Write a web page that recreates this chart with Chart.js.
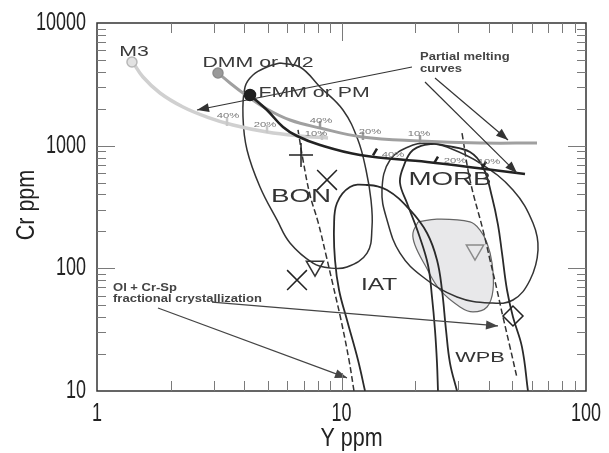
<!DOCTYPE html>
<html>
<head>
<meta charset="utf-8">
<script src="https://cdn.jsdelivr.net/npm/chart.js@4.4.1/dist/chart.umd.min.js"></script>
<style>
  html, body { margin: 0; padding: 0; background: #fff; }
  #wrap { width: 609px; height: 453px; }
</style>
</head>
<body>
<div id="wrap"><canvas id="c" width="609" height="453"></canvas></div>
<script>
// Cr vs Y (ppm), log-log.
const xTickValues = [1, 10, 100];
const yTickValues = [10, 100, 1000, 10000];

// partial melting curves from the mantle sources
const m3Curve  = [[1.40,4808],[1.542,3628],[1.810,2688],[2.248,2066],[2.818,1712],[3.599,1474],[4.958,1292],[6.766,1199],[8.808,1155]];
const dmmCurve = [[3.125,3912],[3.499,3242],[3.955,2688],[4.958,1990],[6.157,1619],[8.168,1393],[12.13,1177],[20.95,1091],[36.86,1051],[63.04,1051]];
const fmmCurve = [[4.225,2588],[4.958,1953],[5.764,1419],[6.577,1199],[8.168,1012],[11.90,839],[22.37,736],[35.83,658],[56.30,587]];

// melting % marks on each curve
const m3Marks  = [[3.402,1559],[4.958,1367],[8.322,1199]];
const dmmMarks = [[8.168,1474],[12.24,1199],[20.95,1133]];
const fmmMarks = [[13.71,888],[24.35,764],[38.27,696]];

// mantle sources
const m3Source  = [[1.39,4808]];
const dmmSource = [[3.125,3912]];
const fmmSource = [[4.225,2588]];

// fractional crystallization trends (dashed)
const fcTrendLow  = [[6.640,1342],[6.959,764],[7.432,396],[8.016,239],[8.643,128.5],[9.23,73.1],[9.954,37.9],[10.73,17.9],[11.25,10]];
const fcTrendHigh = [[31.11,1268],[33.54,525],[37.90,205],[40.50,117],[43.25,66.6],[45.77,40.1],[48.89,22.8],[52.22,12.8]];

// tectonic fields
const bonField  = [[5.604,4720],[6.766,4378],[8.168,3007],[10.14,1953],[11.68,1112],[12.60,633],[13.20,361],[13.33,217],[12.72,133],[10.53,102.5],[8.974,100.6],[7.645,110.5],[6.157,161],[5.448,248],[4.642,460],[4.108,922],[3.955,1712],[4.031,3007],[4.345,3767],[4.958,4378],[5.604,4720]];
const iatField  = [[12.48,10],[11.68,17.9],[10.53,37.9],[9.77,66.6],[9.406,117],[9.32,217],[9.585,341],[10.83,460],[12.72,478],[15.35,435],[19.06,299],[22.37,194],[24.58,117],[25.76,66.6],[26.76,31.4],[27.78,16.9],[29.68,10]];
const wpbField  = [[24.81,10],[24.58,16.9],[24.12,31.4],[23.45,58.4],[22.58,106.4],[20.75,187],[18.53,341],[17.35,496],[17.84,658],[19.60,922],[23.45,1031],[27.01,994],[33.54,888],[37.90,670],[41.27,382],[43.66,226],[45.34,133],[47.53,66.6],[50.28,40.1],[54.73,22.8],[57.91,10]];
const morbField = [[23.01,1051],[27.01,975],[36.86,722],[50.28,435],[60.70,234],[63.64,141],[59.02,80.3],[50.28,55.2],[40.50,52.2],[29.68,58.4],[21.54,85.0],[17.35,133],[15.35,248],[14.64,435],[15.79,764],[19.60,1012],[23.01,1051]];
const morbCore  = [[20.55,239],[24.58,252],[33.54,239],[36.86,205],[39.37,161],[41.27,110.5],[41.66,66.6],[39.37,48.4],[34.50,44.1],[30.53,48.4],[25.29,66.6],[21.95,106.4],[19.97,155],[19.60,194],[20.55,239]];

// samples
const plusSample  = [[6.83,839]];
const crossSamples = [[8.726,525],[6.577,80.3]];
const triSampleDark = [[7.791,104]];
const triSampleGray = [[35.16,141]];
const diamondSample = [[50.28,40.9]];

// annotation arrows
const meltPointer = [[19.42,4378],[2.564,1953]];
const meltArrowA  = [[24.12,3561],[47.97,1112]];
const meltArrowB  = [[21.95,3304],[52.22,598]];
const fcArrowA    = [[2.953,53.1],[43.66,33.9]];
const fcArrowB    = [[1.776,47.5],[10.53,12.8]];

// texts
const nameLabels = [
  { t: 'M3', x: 1.417, y: 5801, k: 'src' },
  { t: 'DMM or M2', x: 4.555, y: 4720, k: 'src' },
  { t: 'FMM or PM', x: 7.72, y: 2688, k: 'src' },
  { t: 'BON', x: 6.83, y: 382, k: 'big' },
  { t: 'MORB', x: 27.78, y: 525, k: 'big' },
  { t: 'IAT', x: 14.24, y: 73.1, k: 'mid' },
  { t: 'WPB', x: 36.86, y: 18.58, k: 'small' }
];
const pctLabels = [
  { t: '40%', x: 3.434, y: 1745 }, { t: '20%', x: 4.864, y: 1474 }, { t: '10%', x: 7.865, y: 1245 },
  { t: '40%', x: 8.245, y: 1589 }, { t: '20%', x: 13.08, y: 1292 }, { t: '10%', x: 20.75, y: 1245 },
  { t: '40%', x: 16.24, y: 839 },  { t: '20%', x: 29.12, y: 750 },  { t: '10%', x: 40.12, y: 736 }
];
const noteLabels = [
  { t: 'Partial melting', x: 20.95, y: 5282 },
  { t: 'curves', x: 20.95, y: 4217 },
  { t: 'Ol + Cr-Sp', x: 1.163, y: 69.1 },
  { t: 'fractional crystallization', x: 1.163, y: 56.2 }
];

const FONT = '"Liberation Sans", Arial, sans-serif';
const labelStyles = {
  src:   { size: 15, bold: false, color: '#3a3a3a', sx: 1.42 },
  big:   { size: 19, bold: false, color: '#333', sx: 1.46 },
  mid:   { size: 17, bold: false, color: '#333', sx: 1.44 },
  small: { size: 15, bold: false, color: '#333', sx: 1.45 }
};

const pts = a => a.map(([x, y]) => ({ x, y }));

function curve(data, color, width, extra) {
  return Object.assign({
    data: pts(data), showLine: true, borderColor: color, borderWidth: width,
    pointRadius: 0, tension: 0.4, fill: false
  }, extra || {});
}

function marker(data, style, radius, color, extra) {
  return Object.assign({
    data: pts(data), showLine: false, pointStyle: style, pointRadius: radius,
    pointBorderColor: color, pointBackgroundColor: 'rgba(0,0,0,0)', pointBorderWidth: 1.5
  }, extra || {});
}

function stretchText(ctx, text, x, y, font, color, sx, align) {
  ctx.save();
  ctx.translate(x, y);
  ctx.scale(sx, 1);
  ctx.font = font;
  ctx.fillStyle = color;
  ctx.textAlign = align || 'center';
  ctx.textBaseline = 'middle';
  ctx.fillText(text, 0, 0);
  ctx.restore();
}

const decor = {
  id: 'decor',
  afterDatasetsDraw(chart) {
    const ctx = chart.ctx, xs = chart.scales.x, ys = chart.scales.y, a = chart.chartArea;

    // arrowheads
    chart.data.datasets.forEach((ds, i) => {
      if (!ds.arrowHead) return;
      const el = chart.getDatasetMeta(i).data;
      const p1 = el[el.length - 2], p2 = el[el.length - 1];
      const ang = Math.atan2(p2.y - p1.y, p2.x - p1.x);
      ctx.save();
      ctx.translate(p2.x, p2.y);
      ctx.rotate(ang);
      ctx.beginPath();
      ctx.moveTo(0, 0); ctx.lineTo(-12, -4.5); ctx.lineTo(-12, 4.5); ctx.closePath();
      ctx.fillStyle = ds.borderColor;
      ctx.fill();
      ctx.restore();
    });

    // frame
    ctx.save();
    ctx.strokeStyle = '#333';
    ctx.lineWidth = 1.5;
    ctx.strokeRect(a.left, a.top, a.right - a.left, a.bottom - a.top);

    // inward tick marks
    ctx.lineWidth = 1;
    ctx.strokeStyle = '#7a7a7a';
    ctx.beginPath();
    for (let k = 0; k < 2; k++) {
      for (let m = 1; m <= 9; m++) {
        const v = m * Math.pow(10, k);
        if (v === 1) continue;
        const px = Math.round(xs.getPixelForValue(v)) + 0.5;
        const len = m === 1 ? 18 : 10;
        ctx.moveTo(px, a.bottom); ctx.lineTo(px, a.bottom - len);
        ctx.moveTo(px, a.top); ctx.lineTo(px, a.top + len);
      }
    }
    for (let k = 1; k < 4; k++) {
      for (let m = 1; m <= 9; m++) {
        const v = m * Math.pow(10, k);
        if (v === 10) continue;
        const py = Math.round(ys.getPixelForValue(v)) + 0.5;
        const len = m === 1 ? 18 : 9;
        ctx.moveTo(a.left, py); ctx.lineTo(a.left + len, py);
        ctx.moveTo(a.right, py); ctx.lineTo(a.right - len, py);
      }
    }
    ctx.stroke();
    ctx.restore();

    // tick labels
    const tickFont = '25px ' + FONT;
    xTickValues.forEach(v => stretchText(ctx, String(v), xs.getPixelForValue(v), a.bottom + 23, tickFont, '#222', 0.72, 'center'));
    yTickValues.forEach(v => {
      ctx.save();
      ctx.translate(a.left - 11, ys.getPixelForValue(v));
      ctx.scale(0.72, 1);
      ctx.font = tickFont; ctx.fillStyle = '#222';
      ctx.textAlign = 'right'; ctx.textBaseline = 'middle';
      ctx.fillText(String(v), 0, 0);
      ctx.restore();
    });

    // axis titles
    stretchText(ctx, 'Y ppm', (a.left + a.right) / 2 + 10, a.bottom + 48, tickFont, '#222', 0.86, 'center');
    ctx.save();
    ctx.translate(27, (a.top + a.bottom) / 2 - 2);
    ctx.rotate(-Math.PI / 2);
    ctx.scale(0.86, 1);
    ctx.font = tickFont; ctx.fillStyle = '#222';
    ctx.textAlign = 'center'; ctx.textBaseline = 'middle';
    ctx.fillText('Cr ppm', 0, 0);
    ctx.restore();

    // in-plot texts
    nameLabels.forEach(l => {
      const s = labelStyles[l.k];
      stretchText(ctx, l.t, xs.getPixelForValue(l.x), ys.getPixelForValue(l.y),
        (s.bold ? 'bold ' : '') + s.size + 'px ' + FONT, s.color, s.sx, 'center');
    });
    pctLabels.forEach(l => stretchText(ctx, l.t, xs.getPixelForValue(l.x), ys.getPixelForValue(l.y),
      '8px ' + FONT, '#777', 1.4, 'center'));
    noteLabels.forEach(l => stretchText(ctx, l.t, xs.getPixelForValue(l.x), ys.getPixelForValue(l.y),
      'bold 10px ' + FONT, '#444', 1.3, 'left'));
  }
};

const datasets = [
  // sources on top
  marker(fmmSource, 'circle', 5.5, '#1e1e1e', { pointBackgroundColor: '#1e1e1e' }),
  marker(dmmSource, 'circle', 5, '#8c8c8c', { pointBackgroundColor: '#9a9a9a' }),
  marker(m3Source, 'circle', 5, '#b8b8b8', { pointBackgroundColor: '#e2e2e2' }),
  // samples
  marker(plusSample, 'cross', 12, '#222'),
  marker(crossSamples, 'crossRot', 14, '#222'),
  marker(triSampleDark, 'triangle', 10, '#333', { pointRotation: 180 }),
  marker(triSampleGray, 'triangle', 10, '#8a8a8a', { pointRotation: 180 }),
  marker(diamondSample, 'rectRot', 10, '#222'),
  // arrows
  curve(meltPointer, '#333', 1.2, { tension: 0, arrowHead: true }),
  curve(meltArrowA, '#333', 1.2, { tension: 0, arrowHead: true }),
  curve(meltArrowB, '#333', 1.2, { tension: 0, arrowHead: true }),
  curve(fcArrowA, '#444', 1.2, { tension: 0, arrowHead: true }),
  curve(fcArrowB, '#444', 1.2, { tension: 0, arrowHead: true }),
  // % marks
  marker(fmmMarks, 'line', 4, '#222', { pointRotation: -60, pointBorderWidth: 2.5 }),
  marker(dmmMarks, 'line', 4, '#9a9a9a', { pointRotation: 90, pointBorderWidth: 2.5 }),
  marker(m3Marks, 'line', 4, '#c8c8c8', { pointRotation: 90, pointBorderWidth: 2.5 }),
  // melting curves
  curve(fmmCurve, '#222', 2.6),
  curve(dmmCurve, '#a0a0a0', 3),
  curve(m3Curve, '#d0d0d0', 3.5),
  // crystallization trends
  curve(fcTrendLow, '#333', 1.5, { borderDash: [6, 3] }),
  curve(fcTrendHigh, '#333', 1.5, { borderDash: [6, 3] }),
  // fields
  curve(bonField, '#333', 1.5),
  curve(iatField, '#2a2a2a', 1.8),
  curve(wpbField, '#2a2a2a', 1.8),
  curve(morbField, '#333', 1.5),
  curve(morbCore, '#666', 1.2, { fill: 'shape', backgroundColor: '#e8e8ea' })
];

new Chart(document.getElementById('c'), {
  type: 'scatter',
  data: { datasets },
  options: {
    responsive: false,
    animation: false,
    devicePixelRatio: 1,
    layout: { padding: { left: 97, right: 23, top: 23, bottom: 62 } },
    plugins: { legend: { display: false }, tooltip: { enabled: false } },
    scales: {
      x: { type: 'logarithmic', min: 1, max: 100, display: false },
      y: { type: 'logarithmic', min: 10, max: 10000, display: false }
    }
  },
  plugins: [decor]
});
</script>
</body>
</html>
